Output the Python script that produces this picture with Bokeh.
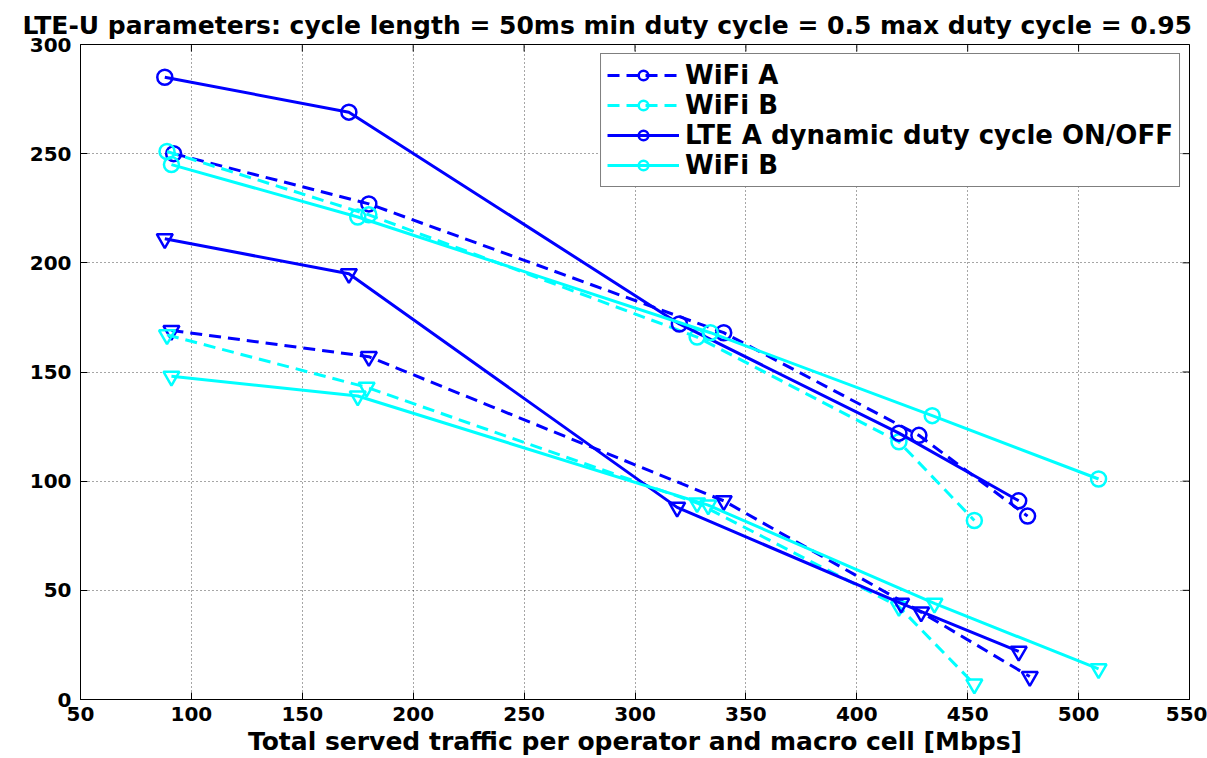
from bokeh.plotting import figure
from bokeh.models import Legend, LegendItem, FixedTicker, Range1d
from bokeh.embed import file_html
from bokeh.resources import INLINE

# ---- data ----
x_ticks = [50, 100, 150, 200, 250, 300, 350, 400, 450, 500, 550]
y_ticks = [0, 50, 100, 150, 200, 250, 300]

title_text = "LTE-U parameters: cycle length = 50ms min duty cycle = 0.5 max duty cycle = 0.95"
x_label = "Total served traffic per operator and macro cell [Mbps]"
legend_labels = ["WiFi A", "WiFi B", "LTE A dynamic duty cycle ON/OFF", "WiFi B"]

# upper group (circle markers)
wifiA_dash_circ_x = [92, 180, 340, 428, 477]
wifiA_dash_circ_y = [250, 227, 168, 121, 84]
wifiB_dash_circ_x = [89, 180, 328, 419, 453]
wifiB_dash_circ_y = [251, 222, 166, 118, 82]
lteA_solid_circ_x = [88, 171, 320, 419, 473]
lteA_solid_circ_y = [285, 269, 172, 122, 91]
wifiB_solid_circ_x = [91, 175, 334, 434, 509]
wifiB_solid_circ_y = [245, 221, 168, 130, 101]

# lower group (triangle markers)
wifiA_dash_tri_x = [91, 180, 340, 429, 478]
wifiA_dash_tri_y = [169, 157, 91, 40, 10.5]
wifiB_dash_tri_x = [89, 179, 328, 419, 453]
wifiB_dash_tri_y = [167, 143, 90, 42.5, 7]
lteA_solid_tri_x = [88, 171, 319, 420, 473]
lteA_solid_tri_y = [211, 195, 88, 44, 22]
wifiB_solid_tri_x = [91, 175, 333, 435, 509]
wifiB_solid_tri_y = [148, 139, 89, 44, 14]

BLUE = "#0000FF"
CYAN = "#00FFFF"
FONT = "DejaVu Sans"
X_MIN, X_MAX = x_ticks[0], x_ticks[-1]
Y_MIN, Y_MAX = y_ticks[0], y_ticks[-1]

p = figure(width=1207, height=758, x_range=Range1d(X_MIN, X_MAX), y_range=Range1d(Y_MIN, Y_MAX),
           output_backend="svg", toolbar_location=None,
           min_border_left=80, min_border_right=18, min_border_top=44, min_border_bottom=58)
p.background_fill_color = "white"
p.border_fill_color = "white"
p.outline_line_color = "black"

p.title.text = title_text
p.title.text_font = FONT
p.title.text_font_style = "bold"
p.title.text_font_size = "25px"
p.title.align = "left"
p.title.offset = -58
p.title.text_color = "black"
p.title.standoff = 9

for ax in (p.xaxis[0], p.yaxis[0]):
    ax.major_tick_in = 7
    ax.major_tick_out = 0
    ax.minor_tick_in = 0
    ax.minor_tick_out = 0
    ax.axis_line_color = "black"
    ax.major_tick_line_color = "black"
    ax.major_label_text_font = FONT
    ax.major_label_text_font_style = "bold"
    ax.major_label_text_font_size = "20px"
    ax.major_label_text_color = "black"

p.xaxis.ticker = FixedTicker(ticks=x_ticks)
p.yaxis.ticker = FixedTicker(ticks=y_ticks)
p.xaxis.major_label_standoff = 7
p.yaxis.major_label_standoff = 9
p.xaxis.axis_label = x_label
p.xaxis.axis_label_text_font = FONT
p.xaxis.axis_label_text_font_style = "bold"
p.xaxis.axis_label_text_font_size = "25px"
p.xaxis.axis_label_text_color = "black"
p.xaxis.axis_label_standoff = 3

p.xgrid.ticker = FixedTicker(ticks=x_ticks)
p.ygrid.ticker = FixedTicker(ticks=y_ticks)
for g in (p.xgrid[0], p.ygrid[0]):
    g.grid_line_color = "black"
    g.grid_line_dash = "1 3"
    g.grid_line_alpha = 0.7
    g.grid_line_width = 1

# inward tick marks on the top and right edges of the box (clipped to the frame)
p.scatter(x_ticks, [Y_MAX] * len(x_ticks), marker="dash", angle=1.5708, size=14,
          line_color="black", line_width=1)
p.scatter([X_MAX] * len(y_ticks), y_ticks, marker="dash", size=14,
          line_color="black", line_width=1)

LW = 3
DASH = "12 7"

def series(x, y, color, dash, marker, size):
    ln = p.line(x, y, line_color=color, line_width=LW, line_dash=dash)
    sc = p.scatter(x, y, marker=marker, size=size, line_color=color, line_width=2.5,
                   fill_color=None)
    return ln, sc

r1 = series(wifiA_dash_circ_x, wifiA_dash_circ_y, BLUE, DASH, "circle", 15)
r2 = series(wifiB_dash_circ_x, wifiB_dash_circ_y, CYAN, DASH, "circle", 15)
r3 = series(lteA_solid_circ_x, lteA_solid_circ_y, BLUE, "solid", "circle", 15)
r4 = series(wifiB_solid_circ_x, wifiB_solid_circ_y, CYAN, "solid", "circle", 15)
series(wifiA_dash_tri_x, wifiA_dash_tri_y, BLUE, DASH, "inverted_triangle", 16)
series(wifiB_dash_tri_x, wifiB_dash_tri_y, CYAN, DASH, "inverted_triangle", 16)
series(lteA_solid_tri_x, lteA_solid_tri_y, BLUE, "solid", "inverted_triangle", 16)
series(wifiB_solid_tri_x, wifiB_solid_tri_y, CYAN, "solid", "inverted_triangle", 16)

items = [LegendItem(label=lab, renderers=list(r)) for lab, r in zip(legend_labels, (r1, r2, r3, r4))]
legend = Legend(items=items, location="top_right",
                label_text_font=FONT, label_text_font_style="bold",
                label_text_font_size="26px", label_text_color="black",
                glyph_width=72, glyph_height=24, label_height=24,
                spacing=0, padding=6, margin=9, label_standoff=6,
                border_line_color="black", border_line_width=1,
                background_fill_color="white", background_fill_alpha=1.0)
p.add_layout(legend)

open("out.html", "w").write(file_html(p, INLINE))
